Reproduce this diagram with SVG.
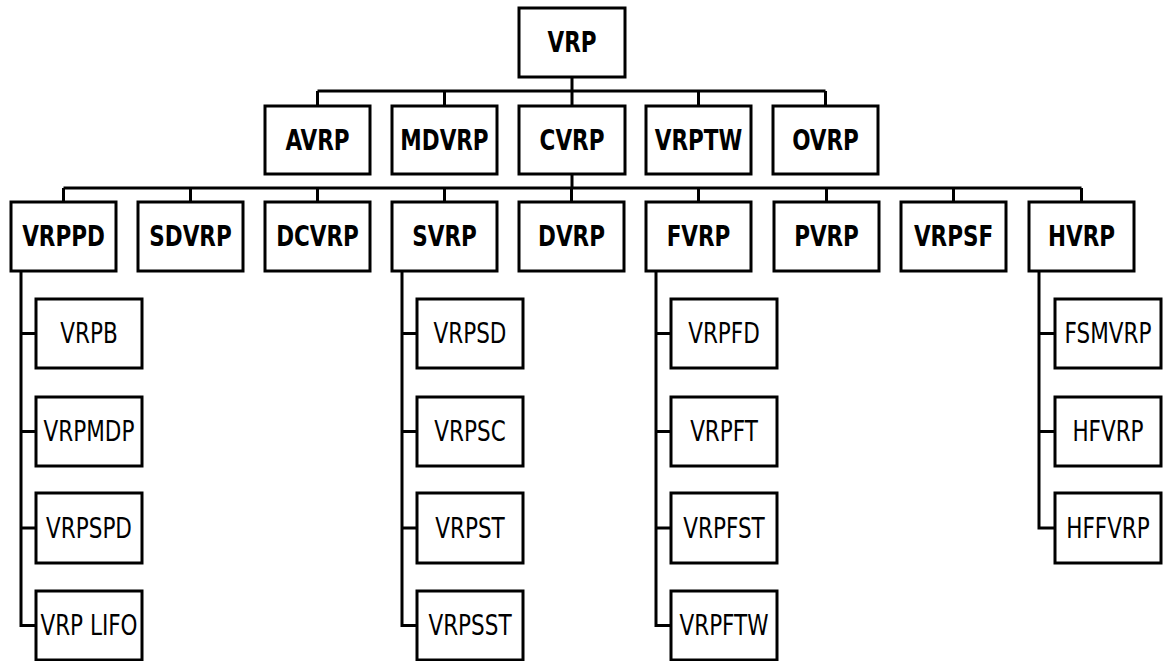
<svg xmlns="http://www.w3.org/2000/svg" width="1164" height="661" viewBox="0 0 1164 661">
<style>
rect.b{fill:#fff;stroke:#000;stroke-width:3}
.c path{fill:none;stroke:#000;stroke-width:3}
text{font-family:"DejaVu Sans Condensed","DejaVu Sans",sans-serif;font-stretch:condensed;font-size:27.5px;text-anchor:middle;fill:#000}
text.h{font-weight:bold}
</style>
<rect width="1164" height="661" fill="#fff"/>
<g class="c" id="connectors">
<path d="M572 77V91M317.5 91H825.5M317.5 91V106M444.5 91V106M572 91V106M698.5 91V106M825.5 91V106"/>
<path d="M572 174V188M63.5 188H1081.5M63.5 188V202M190.5 188V202M317.5 188V202M444.5 188V202M571.5 188V202M698.5 188V202M826.5 188V202M953.5 188V202M1081.5 188V202"/>
<path d="M21 271V625.5H36M21 333.5H36M21 431.5H36M21 528H36"/>
<path d="M402 271V625.5H417M402 333.5H417M402 431.5H417M402 528H417"/>
<path d="M656 271V625.5H671M656 333.5H671M656 431.5H671M656 528H671"/>
<path d="M1039 271V528H1055M1039 333.5H1055M1039 431.5H1055"/>
</g>
<g id="n-VRP"><rect class="b" x="519" y="8" width="106" height="69"/><text class="h" transform="translate(572 52) scale(0.87 1)">VRP</text></g>
<g id="n-AVRP"><rect class="b" x="265" y="106" width="105" height="68"/><text class="h" transform="translate(317.5 150) scale(0.87 1)">AVRP</text></g>
<g id="n-MDVRP"><rect class="b" x="392" y="106" width="105" height="68"/><text class="h" transform="translate(444.5 150) scale(0.87 1)">MDVRP</text></g>
<g id="n-CVRP"><rect class="b" x="519" y="106" width="106" height="68"/><text class="h" transform="translate(572 150) scale(0.87 1)">CVRP</text></g>
<g id="n-VRPTW"><rect class="b" x="646" y="106" width="105" height="68"/><text class="h" transform="translate(698.5 150) scale(0.87 1)">VRPTW</text></g>
<g id="n-OVRP"><rect class="b" x="773" y="106" width="105" height="68"/><text class="h" transform="translate(825.5 150) scale(0.87 1)">OVRP</text></g>
<g id="n-VRPPD"><rect class="b" x="11" y="202" width="105" height="69"/><text class="h" transform="translate(63.5 246) scale(0.87 1)">VRPPD</text></g>
<g id="n-SDVRP"><rect class="b" x="138" y="202" width="105" height="69"/><text class="h" transform="translate(190.5 246) scale(0.87 1)">SDVRP</text></g>
<g id="n-DCVRP"><rect class="b" x="265" y="202" width="105" height="69"/><text class="h" transform="translate(317.5 246) scale(0.87 1)">DCVRP</text></g>
<g id="n-SVRP"><rect class="b" x="392" y="202" width="105" height="69"/><text class="h" transform="translate(444.5 246) scale(0.87 1)">SVRP</text></g>
<g id="n-DVRP"><rect class="b" x="519" y="202" width="105" height="69"/><text class="h" transform="translate(571.5 246) scale(0.87 1)">DVRP</text></g>
<g id="n-FVRP"><rect class="b" x="646" y="202" width="105" height="69"/><text class="h" transform="translate(698.5 246) scale(0.87 1)">FVRP</text></g>
<g id="n-PVRP"><rect class="b" x="774" y="202" width="105" height="69"/><text class="h" transform="translate(826.5 246) scale(0.87 1)">PVRP</text></g>
<g id="n-VRPSF"><rect class="b" x="901" y="202" width="105" height="69"/><text class="h" transform="translate(953.5 246) scale(0.87 1)">VRPSF</text></g>
<g id="n-HVRP"><rect class="b" x="1029" y="202" width="105" height="69"/><text class="h" transform="translate(1081.5 246) scale(0.87 1)">HVRP</text></g>
<g id="n-VRPB"><rect class="b" x="36" y="299" width="106" height="69"/><text transform="translate(89 343) scale(0.87 1)">VRPB</text></g>
<g id="n-VRPMDP"><rect class="b" x="36" y="397" width="106" height="69"/><text transform="translate(89 441) scale(0.87 1)">VRPMDP</text></g>
<g id="n-VRPSPD"><rect class="b" x="36" y="493" width="106" height="70"/><text transform="translate(89 538) scale(0.87 1)">VRPSPD</text></g>
<g id="n-VRPLIFO"><rect class="b" x="36" y="591" width="106" height="69"/><text transform="translate(89 635) scale(0.87 1)">VRP LIFO</text></g>
<g id="n-VRPSD"><rect class="b" x="417" y="299" width="106" height="69"/><text transform="translate(470 343) scale(0.87 1)">VRPSD</text></g>
<g id="n-VRPSC"><rect class="b" x="417" y="397" width="106" height="69"/><text transform="translate(470 441) scale(0.87 1)">VRPSC</text></g>
<g id="n-VRPST"><rect class="b" x="417" y="493" width="106" height="70"/><text transform="translate(470 538) scale(0.87 1)">VRPST</text></g>
<g id="n-VRPSST"><rect class="b" x="417" y="591" width="106" height="69"/><text transform="translate(470 635) scale(0.87 1)">VRPSST</text></g>
<g id="n-VRPFD"><rect class="b" x="671" y="299" width="106" height="69"/><text transform="translate(724 343) scale(0.87 1)">VRPFD</text></g>
<g id="n-VRPFT"><rect class="b" x="671" y="397" width="106" height="69"/><text transform="translate(724 441) scale(0.87 1)">VRPFT</text></g>
<g id="n-VRPFST"><rect class="b" x="671" y="493" width="106" height="70"/><text transform="translate(724 538) scale(0.87 1)">VRPFST</text></g>
<g id="n-VRPFTW"><rect class="b" x="671" y="591" width="106" height="69"/><text transform="translate(724 635) scale(0.87 1)">VRPFTW</text></g>
<g id="n-FSMVRP"><rect class="b" x="1055" y="299" width="106" height="69"/><text transform="translate(1108 343) scale(0.87 1)">FSMVRP</text></g>
<g id="n-HFVRP"><rect class="b" x="1055" y="397" width="106" height="69"/><text transform="translate(1108 441) scale(0.87 1)">HFVRP</text></g>
<g id="n-HFFVRP"><rect class="b" x="1055" y="493" width="106" height="70"/><text transform="translate(1108 538) scale(0.87 1)">HFFVRP</text></g>
</svg>
